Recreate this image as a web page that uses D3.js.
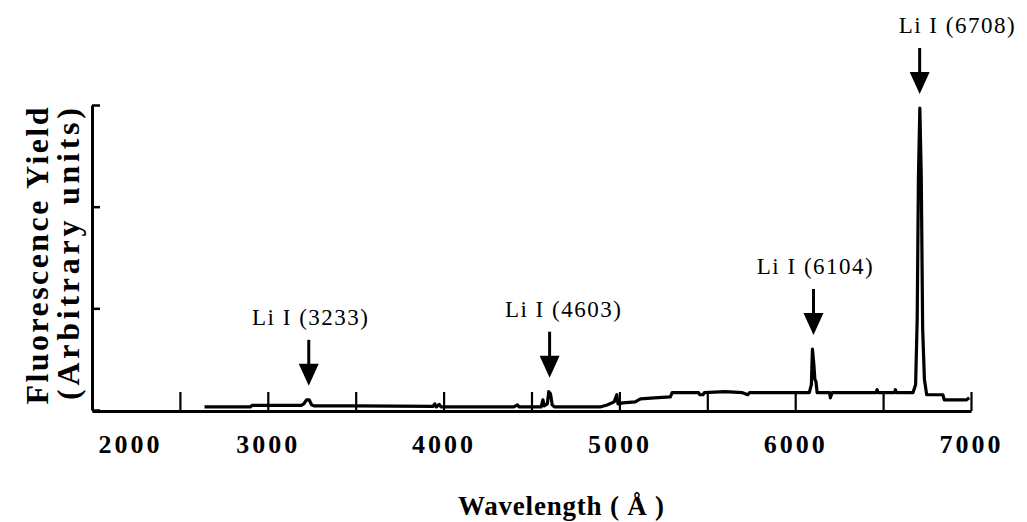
<!DOCTYPE html>
<html>
<head>
<meta charset="utf-8">
<script src="https://cdn.jsdelivr.net/npm/d3@7/dist/d3.min.js"></script>
<style>
  body { margin: 0; background: #fff; }
  svg { display: block; }
</style>
</head>
<body>
<script>
// Li fluorescence spectrum
// wavelength in Angstrom, yield in arbitrary units
const wavelengths = [2640, 2900, 2910, 3190, 3205, 3220, 3235, 3250, 3262, 3500, 3940, 3950, 3958, 3975, 3985, 4000,
  4400, 4420, 4430, 4555, 4565, 4572, 4590, 4598, 4608, 4618, 4630, 4890, 4930, 4970, 4985, 4992, 5020, 5090,
  5120, 5200, 5290, 5300, 5450, 5458, 5475, 5483, 5600, 5700, 5730, 5740, 6080, 6092, 6098, 6106, 6112, 6118,
  6125, 6195, 6200, 6210, 6460, 6466, 6472, 6565, 6570, 6576, 6670, 6685, 6694, 6701, 6709, 6717, 6725, 6735,
  6748, 6840, 6848, 6975, 6990];
const yields = [0.03, 0.03, 0.045, 0.045, 0.06, 0.1, 0.1, 0.05, 0.04, 0.04, 0.035, 0.06, 0.03, 0.055, 0.03, 0.03,
  0.03, 0.05, 0.03, 0.03, 0.1, 0.04, 0.06, 0.18, 0.16, 0.05, 0.03, 0.03, 0.05, 0.08, 0.15, 0.06, 0.07, 0.08,
  0.11, 0.12, 0.13, 0.17, 0.17, 0.15, 0.15, 0.17, 0.18, 0.17, 0.15, 0.17, 0.17, 0.25, 0.6, 0.45, 0.3, 0.28,
  0.17, 0.17, 0.12, 0.17, 0.17, 0.2, 0.17, 0.17, 0.2, 0.17, 0.17, 0.25, 0.9, 2.3, 2.97, 2.3, 0.8, 0.3,
  0.15, 0.15, 0.1, 0.1, 0.12];

const xTickValues = [2500, 3000, 3500, 4000, 4500, 5000, 5500, 6000, 6500, 7000];
const xLabelValues = [2000, 3000, 4000, 5000, 6000, 7000];
const yTickValues = [0, 1, 2, 3];

const lineNames = ["Li I (3233)", "Li I (4603)", "Li I (6104)", "Li I (6708)"];
const lineWavelengths = [3233, 4603, 6104, 6708];
const linePeaks = [0.1, 0.18, 0.6, 2.97];

const W = 1027, H = 522;
const margin = {top: 105, left: 92, bottom: 112, right: 56};
const width = W - margin.left - margin.right;
const height = H - margin.top - margin.bottom;

const serif = "'Liberation Serif', 'Times New Roman', serif";

const svg = d3.select("body").append("svg")
  .attr("width", W)
  .attr("height", H);

const g = svg.append("g")
  .attr("transform", `translate(${margin.left}, ${margin.top})`);

const x = d3.scaleLinear().domain([2000, 7000]).range([0, width]);
const y = d3.scaleLinear().domain([0, 3]).range([height, 0]);

// x axis: ticks point up into the plot
const xAxis = g.append("g")
  .attr("transform", `translate(0, ${height + 1})`)
  .call(d3.axisBottom(x).tickValues(xTickValues).tickSizeInner(-19).tickSizeOuter(0).tickFormat(""));
xAxis.select(".domain").attr("stroke-width", 3);
xAxis.selectAll(".tick line").attr("stroke-width", 2.2);

// x tick labels
const xLabels = g.append("g")
  .attr("transform", `translate(0, ${height})`)
  .call(d3.axisBottom(x).tickValues(xLabelValues).tickSize(0).tickPadding(25).tickFormat(d3.format("d")));
xLabels.select(".domain").remove();
xLabels.selectAll("text")
  .attr("font-family", serif)
  .attr("font-size", 26)
  .attr("font-weight", "bold")
  .attr("letter-spacing", 3)
  .attr("fill", "#000");
xLabels.selectAll(".tick").filter(d => d === xLabelValues[0])
  .select("text").attr("text-anchor", "start").attr("dx", 6);

// y axis: ticks point right
const yAxis = g.append("g")
  .call(d3.axisLeft(y).tickValues(yTickValues).tickSizeInner(-8).tickSizeOuter(0).tickFormat(""));
yAxis.select(".domain").attr("stroke-width", 3);
yAxis.selectAll(".tick line").attr("stroke-width", 2.5);

// spectrum
const line = d3.line()
  .x(i => x(wavelengths[i]))
  .y(i => y(yields[i]));

g.append("path")
  .datum(d3.range(wavelengths.length))
  .attr("fill", "none")
  .attr("stroke", "#000")
  .attr("stroke-width", 3.2)
  .attr("stroke-linejoin", "round")
  .attr("d", line);

// line markers: arrow + label
const gap = 14, arrowLen = 46, headH = 22, headW = 20;
const marks = g.selectAll(".mark")
  .data(lineNames)
  .enter().append("g")
  .attr("class", "mark")
  .attr("transform", (d, i) => `translate(${x(lineWavelengths[i])}, ${y(linePeaks[i]) - gap})`);

marks.append("line")
  .attr("x1", 0).attr("x2", 0)
  .attr("y1", -arrowLen).attr("y2", -headH + 2)
  .attr("stroke", "#000")
  .attr("stroke-width", 3);

marks.append("path")
  .attr("d", `M0,0L${-headW / 2},${-headH}L${headW / 2},${-headH}Z`)
  .attr("fill", "#000");

const last = lineNames.length - 1;
marks.append("text")
  .attr("y", -arrowLen - 15)
  .attr("text-anchor", (d, i) => i === last ? "start" : "middle")
  .attr("x", (d, i) => i === last ? -21 : (i === 1 ? 14 : 2))
  .attr("font-family", serif)
  .attr("font-size", 23)
  .attr("letter-spacing", 1.5)
  .text(d => d);

// axis titles
svg.append("text")
  .attr("x", 561)
  .attr("y", 515)
  .attr("text-anchor", "middle")
  .attr("font-family", serif)
  .attr("font-size", 27)
  .attr("font-weight", "bold")
  .attr("textLength", 206)
  .attr("lengthAdjust", "spacing")
  .text("Wavelength ( Å )");

svg.append("text")
  .attr("transform", "translate(48, 256) rotate(-90)")
  .attr("text-anchor", "middle")
  .attr("font-family", serif)
  .attr("font-size", 32)
  .attr("font-weight", "bold")
  .attr("textLength", 297)
  .attr("lengthAdjust", "spacing")
  .text("Fluorescence Yield");

svg.append("text")
  .attr("transform", "translate(79, 254) rotate(-90)")
  .attr("text-anchor", "middle")
  .attr("font-family", serif)
  .attr("font-size", 32)
  .attr("font-weight", "bold")
  .attr("textLength", 292)
  .attr("lengthAdjust", "spacing")
  .text("(Arbitrary units)");
</script>
</body>
</html>
